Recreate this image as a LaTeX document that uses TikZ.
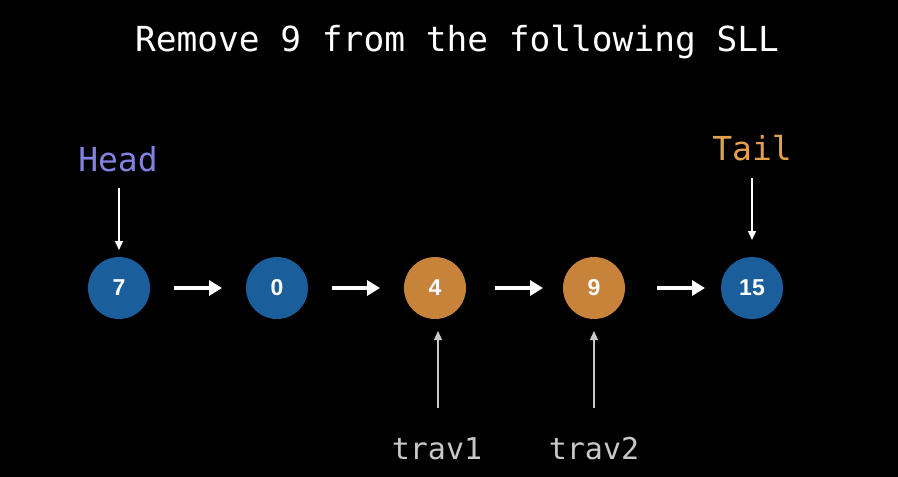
\documentclass[tikz,border=0pt]{standalone}
\usepackage{fontspec}
\setmainfont{Liberation Sans}
\newfontfamily\monof{DejaVu Sans Mono}
\usetikzlibrary{arrows.meta}
\definecolor{nodeblue}{HTML}{1B5E9C}
\definecolor{nodeorange}{HTML}{C8833A}
\definecolor{headcol}{HTML}{8282E0}
\definecolor{tailcol}{HTML}{E3A04E}
\definecolor{travcol}{HTML}{C8C8C8}
\tikzset{
  x=1pt, y=-1pt,
  llnode/.style={circle, minimum size=62pt, inner sep=0pt, text=white,
    font=\fontsize{23}{26}\selectfont\bfseries},
  bluenode/.style={llnode, fill=nodeblue},
  orangenode/.style={llnode, fill=nodeorange},
  linkarrow/.style={white, line width=4pt, -{Triangle[length=13pt,width=15pt]}},
  ptrarrow/.style={line width=1.4pt, -{Triangle[length=9pt,width=8pt]}},
  lbl/.style={font=\monof\fontsize{33}{36}\selectfont, inner sep=0pt}
}
\begin{document}
\begin{tikzpicture}
\fill[black] (0,0) rectangle (898,477);
\useasboundingbox (0,0) rectangle (898,477);
\node[lbl, text=white, font=\monof\fontsize{34.5}{38}\selectfont] (title) at (457,42) {Remove 9 from the following SLL};
\node[bluenode] (n7) at (119,288) {7};
\node[bluenode] (n0) at (277,288) {0};
\node[orangenode] (n4) at (435,288) {4};
\node[orangenode] (n9) at (594,288) {9};
\node[bluenode] (n15) at (752,288) {15};
\coordinate (a1s) at (174,288); \coordinate (a1e) at (222,288);
\coordinate (a2s) at (332,288); \coordinate (a2e) at (380,288);
\coordinate (a3s) at (495,288); \coordinate (a3e) at (543,288);
\coordinate (a4s) at (657,288); \coordinate (a4e) at (705,288);
\draw[linkarrow] (a1s) -- (a1e);
\draw[linkarrow] (a2s) -- (a2e);
\draw[linkarrow] (a3s) -- (a3e);
\draw[linkarrow] (a4s) -- (a4e);
\node[lbl, text=headcol] (head) at (118,159) {Head};
\node[lbl, text=tailcol] (tail) at (752,148) {Tail};
\node[lbl, text=travcol, font=\monof\fontsize{30}{34}\selectfont] (trav1) at (437,449) {trav1};
\node[lbl, text=travcol, font=\monof\fontsize{30}{34}\selectfont] (trav2) at (594,449) {trav2};
\coordinate (hs) at (119,188); \coordinate (he) at (119,250);
\coordinate (ts) at (752,178); \coordinate (te) at (752,240);
\coordinate (t1s) at (438,408); \coordinate (t1e) at (438,331);
\coordinate (t2s) at (594,408); \coordinate (t2e) at (594,331);
\draw[ptrarrow, white] (hs) -- (he);
\draw[ptrarrow, white] (ts) -- (te);
\draw[ptrarrow, travcol] (t1s) -- (t1e);
\draw[ptrarrow, travcol] (t2s) -- (t2e);
\end{tikzpicture}
\end{document}
